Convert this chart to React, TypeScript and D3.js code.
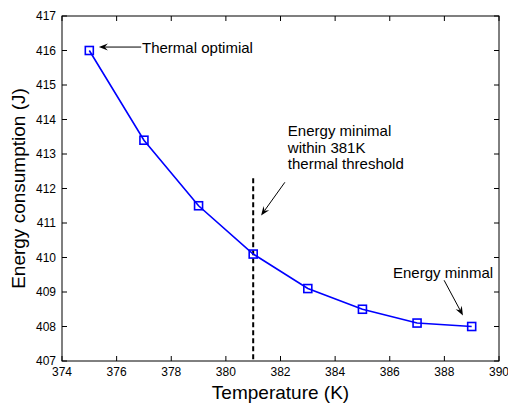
import * as d3 from 'd3'
import { useEffect, useRef } from 'react'

const temperatures = [375, 377, 379, 381, 383, 385, 387, 389]
const energy = [416.0, 413.4, 411.5, 410.1, 409.1, 408.5, 408.1, 408.0]
const xTicks = [374, 376, 378, 380, 382, 384, 386, 388, 390]
const yTicks = [407, 408, 409, 410, 411, 412, 413, 414, 415, 416, 417]
const threshold = 381

// annotation arrows in data space: [fromX, fromY, toX, toY]
const arrows = [
    [376.9, 416.1, 375.35, 416.1],
    [382.16, 412.18, 381.29, 411.22],
    [387.99, 409.34, 388.68, 408.32],
]
const notes = [
    { x: 376.93, y: 415.93, lines: ['Thermal optimial'] },
    { x: 382.27, y: 413.52, lines: ['Energy minimal', 'within 381K', 'thermal threshold'] },
    { x: 386.12, y: 409.42, lines: ['Energy minmal'] },
]

const W = 508
const H = 405
const margin = { left: 62, right: 9, top: 16, bottom: 44 }

function App() {
    const ref = useRef<SVGSVGElement>(null)

    useEffect(() => {
        const svg = d3.select(ref.current)
        svg.selectAll('*').remove()

        const x = d3
            .scaleLinear()
            .domain([374, 390])
            .range([margin.left, W - margin.right])
        const y = d3
            .scaleLinear()
            .domain([407, 417])
            .range([H - margin.bottom, margin.top])

        const font = 'Liberation Sans, Arial, Helvetica, sans-serif'
        const tick = 5

        // frame
        svg.append('rect')
            .attr('x', x(374))
            .attr('y', y(417))
            .attr('width', x(390) - x(374))
            .attr('height', y(407) - y(417))
            .attr('fill', 'white')
            .attr('stroke', '#000')
            .attr('stroke-width', 1)

        // ticks on all four sides, pointing in
        const tk = svg.append('g').attr('stroke', '#000').attr('stroke-width', 1)
        xTicks.forEach((t) => {
            tk.append('line').attr('x1', x(t)).attr('x2', x(t)).attr('y1', y(407)).attr('y2', y(407) - tick)
            tk.append('line').attr('x1', x(t)).attr('x2', x(t)).attr('y1', y(417)).attr('y2', y(417) + tick)
        })
        yTicks.forEach((t) => {
            tk.append('line').attr('x1', x(374)).attr('x2', x(374) + tick).attr('y1', y(t)).attr('y2', y(t))
            tk.append('line').attr('x1', x(390)).attr('x2', x(390) - tick).attr('y1', y(t)).attr('y2', y(t))
        })

        svg.append('g')
            .selectAll('text')
            .data(xTicks)
            .enter()
            .append('text')
            .attr('x', (d) => x(d))
            .attr('y', y(407) + 15)
            .attr('text-anchor', 'middle')
            .attr('font-family', font)
            .attr('font-size', 12)
            .attr('fill', '#000')
            .text((d) => d)

        svg.append('g')
            .selectAll('text')
            .data(yTicks)
            .enter()
            .append('text')
            .attr('x', x(374) - 6)
            .attr('y', (d) => y(d) + 4)
            .attr('text-anchor', 'end')
            .attr('font-family', font)
            .attr('font-size', 12)
            .attr('fill', '#000')
            .text((d) => d)

        // axis titles
        svg.append('text')
            .attr('x', (x(374) + x(390)) / 2)
            .attr('y', 399)
            .attr('text-anchor', 'middle')
            .attr('font-family', font)
            .attr('font-size', 19)
            .attr('fill', '#000')
            .text('Temperature (K)')

        svg.append('text')
            .attr('transform', `translate(25, ${(y(407) + y(417)) / 2}) rotate(-90)`)
            .attr('text-anchor', 'middle')
            .attr('font-family', font)
            .attr('font-size', 19)
            .attr('fill', '#000')
            .text('Energy consumption (J)')

        // threshold line
        svg.append('line')
            .attr('x1', x(threshold))
            .attr('x2', x(threshold))
            .attr('y1', y(412.3))
            .attr('y2', y(407))
            .attr('stroke', '#000')
            .attr('stroke-width', 2)
            .attr('stroke-dasharray', '5,3')

        // data line + markers
        const line = d3
            .line<number>()
            .x((d, i) => x(temperatures[i]))
            .y((d) => y(d))
        svg.append('path')
            .attr('d', line(energy))
            .attr('fill', 'none')
            .attr('stroke', '#0000ff')
            .attr('stroke-width', 1.6)

        svg.append('g')
            .selectAll('rect')
            .data(energy)
            .enter()
            .append('rect')
            .attr('x', (d, i) => x(temperatures[i]) - 4)
            .attr('y', (d) => y(d) - 4)
            .attr('width', 8)
            .attr('height', 8)
            .attr('fill', 'none')
            .attr('stroke', '#0000ff')
            .attr('stroke-width', 1.6)

        // annotation arrows
        arrows.forEach(([x0, y0, x1, y1]) => {
            const ax = x(x0), ay = y(y0), bx = x(x1), by = y(y1)
            const ang = Math.atan2(by - ay, bx - ax)
            const len = 9, half = 3.5
            const px = bx - len * Math.cos(ang), py = by - len * Math.sin(ang)
            const nx = -Math.sin(ang), ny = Math.cos(ang)
            const bkx = bx - 0.65 * len * Math.cos(ang), bky = by - 0.65 * len * Math.sin(ang)
            svg.append('line')
                .attr('x1', ax).attr('y1', ay)
                .attr('x2', bkx).attr('y2', bky)
                .attr('stroke', '#000')
                .attr('stroke-width', 1)
            svg.append('path')
                .attr('d', `M${bx},${by}L${px + nx * half},${py + ny * half}L${bkx},${bky}L${px - nx * half},${py - ny * half}Z`)
                .attr('fill', '#000')
        })

        notes.forEach((n) => {
            const t = svg.append('text')
                .attr('font-family', font)
                .attr('font-size', 15)
                .attr('fill', '#000')
            n.lines.forEach((l, i) => {
                t.append('tspan').attr('x', x(n.x)).attr('y', y(n.y) + i * 16.7).text(l)
            })
        })
    }, [])

    return (
        <svg
            ref={ref}
            width={W}
            height={H}
            style={{ position: 'absolute', left: 0, top: 0, background: '#fff' }}
        />
    )
}

export default App
